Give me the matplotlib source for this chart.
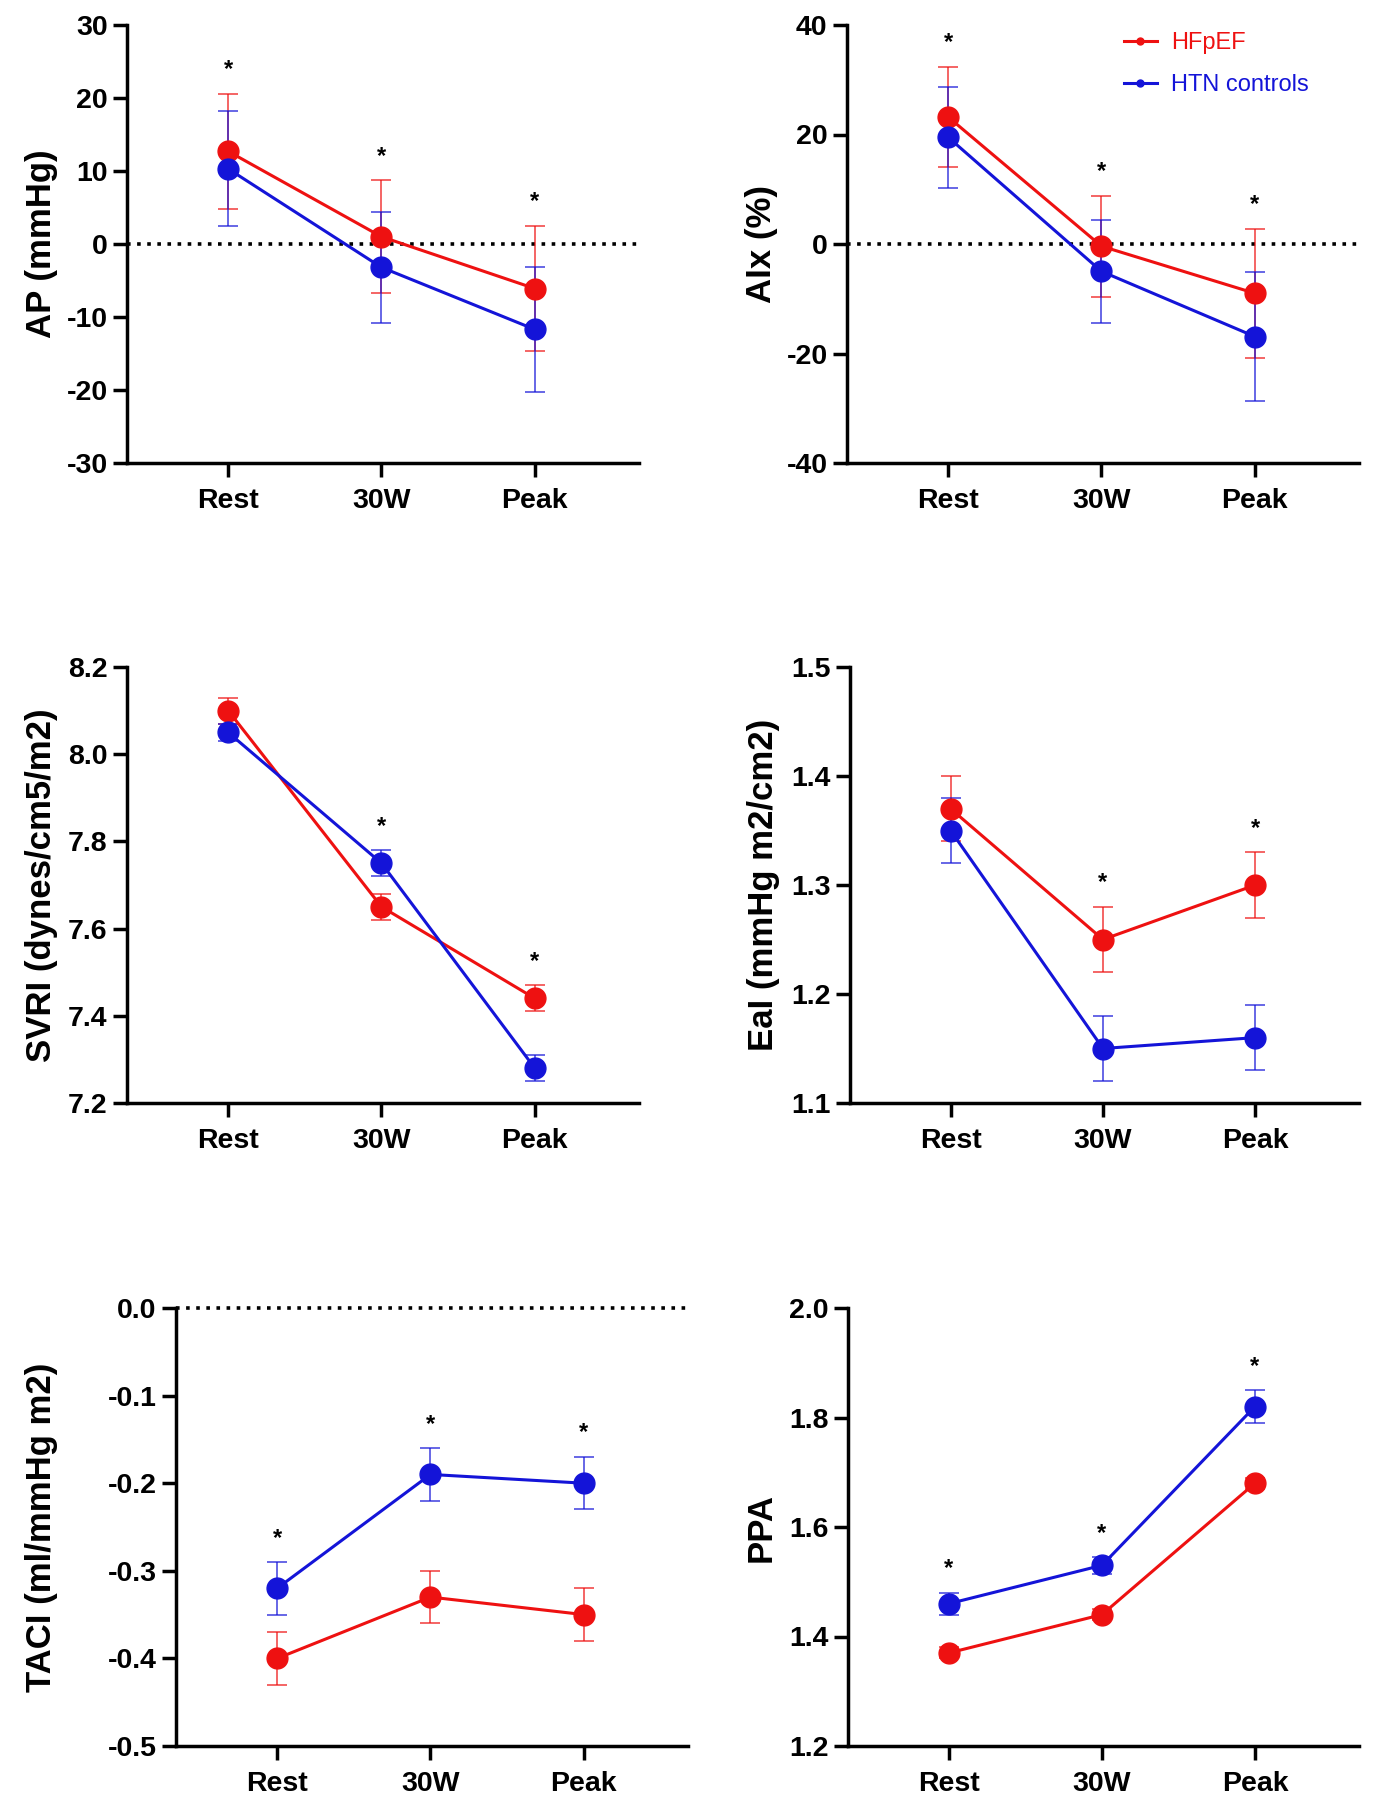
import matplotlib
matplotlib.use("Agg")
import matplotlib.pyplot as plt
import matplotlib.transforms as mtransforms
from matplotlib.lines import Line2D

plt.rcParams['font.family'] = ['Liberation Sans', 'DejaVu Sans']

stages = ['Rest', '30W', 'Peak']
red = '#EE1111'
blue = '#1414D8'

# means and error bars
ap_hf = [12.7, 1.0, -6.1]
ap_hf_err = [7.9, 7.7, 8.6]
ap_htn = [10.3, -3.2, -11.7]
ap_htn_err = [7.9, 7.6, 8.6]

aix_hf = [23.2, -0.4, -9.0]
aix_hf_err = [9.2, 9.2, 11.8]
aix_htn = [19.5, -5.0, -16.9]
aix_htn_err = [9.2, 9.4, 11.7]

svri_hf = [8.10, 7.65, 7.44]
svri_hf_err = [0.03, 0.03, 0.03]
svri_htn = [8.05, 7.75, 7.28]
svri_htn_err = [0.02, 0.03, 0.03]

eai_hf = [1.37, 1.25, 1.30]
eai_hf_err = [0.03, 0.03, 0.03]
eai_htn = [1.35, 1.15, 1.16]
eai_htn_err = [0.03, 0.03, 0.03]

taci_hf = [-0.40, -0.33, -0.35]
taci_hf_err = [0.03, 0.03, 0.03]
taci_htn = [-0.32, -0.19, -0.20]
taci_htn_err = [0.03, 0.03, 0.03]

ppa_hf = [1.37, 1.44, 1.68]
ppa_hf_err = [0.01, 0.01, 0.01]
ppa_htn = [1.46, 1.53, 1.82]
ppa_htn_err = [0.02, 0.015, 0.03]

# which stages carry a significance star
ap_sig = [True, True, True]
aix_sig = [True, True, True]
svri_sig = [False, True, True]
eai_sig = [False, True, True]
taci_sig = [True, True, True]
ppa_sig = [True, True, True]

W, H = 1373, 1800
fig = plt.figure(figsize=(W / 100, H / 100), dpi=100)


def px_axes(left, top, right, bottom):
    return fig.add_axes([left / W, 1 - bottom / H, (right - left) / W, (bottom - top) / H])


def panel(ax, hf, hf_err, htn, htn_err, sig, ylim, yticks, fmt, ylabel, label_x, zero=False):
    x = list(range(len(stages)))
    if zero:
        ax.axhline(0, color='black', lw=2.6, ls=(0, (1, 1.8)), zorder=1, clip_on=False)
    for y, e, c in [(hf, hf_err, red), (htn, htn_err, blue)]:
        ax.errorbar(x, y, yerr=e, color=c, lw=2.2, marker='o', ms=15,
                    ecolor=matplotlib.colors.to_rgba(c, 0.65), elinewidth=1.4,
                    capsize=7, capthick=1.4, zorder=3)
    for i, s in enumerate(sig):
        if s:
            top = max(hf[i] + hf_err[i], htn[i] + htn_err[i])
            ax.annotate('*', (i, top), xytext=(0, 9), textcoords='offset points',
                        ha='center', va='bottom', fontsize=17, fontweight='bold')
    ax.set_xlim(-0.66, 2.68)
    ax.set_ylim(*ylim)
    ax.set_yticks(yticks)
    ax.set_yticklabels([fmt.format(t) for t in yticks])
    ax.set_xticks(x)
    ax.set_xticklabels(stages)
    for sp in ['top', 'right']:
        ax.spines[sp].set_visible(False)
    for sp in ['left', 'bottom']:
        ax.spines[sp].set_linewidth(2.5)
    ax.tick_params(axis='both', width=2.5, length=10, labelsize=20.5, pad=4)
    ax.tick_params(axis='x', pad=8)
    for lab in ax.get_xticklabels() + ax.get_yticklabels():
        lab.set_fontweight('bold')
    ax.set_ylabel(ylabel, fontsize=25, fontweight='bold')
    tr = mtransforms.blended_transform_factory(fig.transFigure, ax.transAxes)
    ax.yaxis.set_label_coords(label_x / W, 0.5, transform=tr)


ax1 = px_axes(127, 25, 639, 463)
panel(ax1, ap_hf, ap_hf_err, ap_htn, ap_htn_err, ap_sig, (-30, 30),
      [-30, -20, -10, 0, 10, 20, 30], '{:.0f}', 'AP (mmHg)', 58, zero=True)

ax2 = px_axes(847, 25, 1359, 463)
panel(ax2, aix_hf, aix_hf_err, aix_htn, aix_htn_err, aix_sig, (-40, 40),
      [-40, -20, 0, 20, 40], '{:.0f}', 'AIx (%)', 778, zero=True)

ax3 = px_axes(127, 667, 639, 1103)
panel(ax3, svri_hf, svri_hf_err, svri_htn, svri_htn_err, svri_sig, (7.2, 8.2),
      [7.2, 7.4, 7.6, 7.8, 8.0, 8.2], '{:.1f}', 'SVRI (dynes/cm5/m2)', 58)

ax4 = px_axes(850, 667, 1359, 1103)
panel(ax4, eai_hf, eai_hf_err, eai_htn, eai_htn_err, eai_sig, (1.1, 1.5),
      [1.1, 1.2, 1.3, 1.4, 1.5], '{:.1f}', 'EaI (mmHg m2/cm2)', 780)

ax5 = px_axes(176, 1308, 688, 1746)
panel(ax5, taci_hf, taci_hf_err, taci_htn, taci_htn_err, taci_sig, (-0.5, 0.0),
      [-0.5, -0.4, -0.3, -0.2, -0.1, 0.0], '{:.1f}', 'TACI (ml/mmHg m2)', 58, zero=True)

ax6 = px_axes(848, 1308, 1359, 1746)
panel(ax6, ppa_hf, ppa_hf_err, ppa_htn, ppa_htn_err, ppa_sig, (1.2, 2.0),
      [1.2, 1.4, 1.6, 1.8, 2.0], '{:.1f}', 'PPA', 778)

handles = [Line2D([], [], color=red, lw=2.2, marker='o', ms=5),
           Line2D([], [], color=blue, lw=2.2, marker='o', ms=5)]
leg = ax2.legend(handles, ['HFpEF', 'HTN controls'], loc='upper left',
                 bbox_to_anchor=(1112 / W, 1 - 20 / H),
                 bbox_transform=fig.transFigure, frameon=False, fontsize=17,
                 handlelength=1.4, handletextpad=0.6, labelspacing=0.85, borderpad=0)
for txt, c in zip(leg.get_texts(), [red, blue]):
    txt.set_color(c)

fig.savefig('out.png', dpi=100)
